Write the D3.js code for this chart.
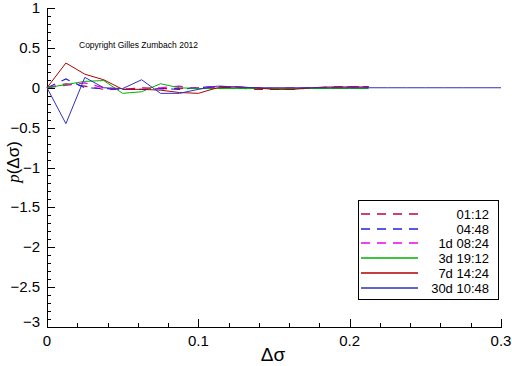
<!DOCTYPE html>
<html>
<head>
<meta charset="utf-8">
<script src="https://cdn.jsdelivr.net/npm/d3@7"></script>
<style>
  body { margin: 0; background: #fff; }
  svg { font-family: "Liberation Sans", Arial, sans-serif; }
</style>
</head>
<body>
<div id="chart"></div>
<script>
// x grid (delta sigma), shared by all series; only the 30d series runs to 0.3
var xs = d3.range(0, 25).map(function (i) { return +(i * 0.0125).toFixed(4); });

var seriesNames = ['01:12', '04:48', '1d 08:24', '3d 19:12', '7d 14:24', '30d 10:48'];
var seriesColors = ['#c00040', '#2020e0', '#f000f0', '#00b000', '#b00000', '#3030c0'];
var seriesDashed = [true, true, true, false, false, false];

var p0112 = [0, 0.05, 0.02, -0.02, -0.02, 0, -0.01, -0.01, 0, 0.01, 0, -0.02, -0.02, -0.02, 0, 0.01, 0.01, 0.01];
var p0448 = [0, 0.11, 0.0, -0.01, -0.02, -0.02, -0.01, -0.02, 0, 0.02, 0.01, 0, -0.01, -0.01, 0, 0, 0.01, 0.01];
var p1d = [0, 0.03, 0.06, 0.0, -0.02, -0.02, 0, 0.02, -0.01, 0.02, 0, 0, -0.01, 0, -0.01, 0, 0.01, 0.01];
var p3d = [0, 0.04, 0.08, 0.09, -0.07, -0.05, 0.05, 0.0, -0.01, -0.01, -0.01, -0.01, -0.01, -0.01, -0.01, -0.01, -0.01, -0.01];
var p7d = [0, 0.31, 0.17, 0.1, -0.02, -0.02, -0.03, -0.06, -0.07, 0, 0.01, 0, -0.02, -0.02, 0, 0.01, 0.01, 0.01];
var p30d = [0, -0.45, 0.13, 0.0, -0.01, 0.1, -0.07, -0.07, -0.02, 0.02, 0.01, 0, 0, 0, 0, 0, 0, 0,
            0, 0, 0, 0, 0, 0, 0];
var seriesValues = [p0112, p0448, p1d, p3d, p7d, p30d];

var xTicks = [0, 0.1, 0.2, 0.3];
var yTicks = [1, 0.5, 0, -0.5, -1, -1.5, -2, -2.5, -3];

(function () {
  var W = 512, H = 366;
  var mLeft = 47, mRight = 501, mTop = 8, mBottom = 327;

  var svg = d3.select('#chart').append('svg').attr('width', W).attr('height', H);

  var x = d3.scaleLinear().domain([0, 0.3]).range([mLeft, mRight]);
  var y = d3.scaleLinear().domain([-3, 1]).range([mBottom, mTop]);

  // minor ticks
  var xMinor = d3.range(0, 0.3001, 0.02);
  var yMinor = d3.range(-3, 1.0001, 0.1);

  svg.append('g').selectAll('line').data(xMinor).join('line')
    .attr('x1', function (d) { return Math.round(x(d)) + 0.5; }).attr('x2', function (d) { return Math.round(x(d)) + 0.5; })
    .attr('y1', mBottom).attr('y2', mBottom - 4)
    .attr('stroke', '#000');
  svg.append('g').selectAll('line').data(yMinor).join('line')
    .attr('x1', mLeft).attr('x2', mLeft + 4)
    .attr('y1', function (d) { return Math.round(y(d)) + 0.5; }).attr('y2', function (d) { return Math.round(y(d)) + 0.5; })
    .attr('stroke', '#000');

  // major ticks
  svg.append('g').selectAll('line').data(xTicks).join('line')
    .attr('x1', function (d) { return Math.round(x(d)) + 0.5; }).attr('x2', function (d) { return Math.round(x(d)) + 0.5; })
    .attr('y1', mBottom).attr('y2', mBottom - 8)
    .attr('stroke', '#000');
  svg.append('g').selectAll('line').data(yTicks).join('line')
    .attr('x1', mLeft).attr('x2', mLeft + 8)
    .attr('y1', function (d) { return Math.round(y(d)) + 0.5; }).attr('y2', function (d) { return Math.round(y(d)) + 0.5; })
    .attr('stroke', '#000');

  // axis lines
  svg.append('line').attr('x1', mLeft).attr('x2', mRight + 1).attr('y1', mBottom + 0.5).attr('y2', mBottom + 0.5)
    .attr('stroke', '#000');
  svg.append('line').attr('x1', mLeft + 0.5).attr('x2', mLeft + 0.5).attr('y1', mTop).attr('y2', mBottom + 1)
    .attr('stroke', '#000');

  // tick labels
  svg.append('g').selectAll('text').data(xTicks).join('text')
    .attr('x', function (d) { return x(d); }).attr('y', mBottom + 19)
    .attr('text-anchor', 'middle').attr('font-size', 15)
    .text(function (d) { return d3.format('')(d); });
  svg.append('g').selectAll('text').data(yTicks).join('text')
    .attr('x', mLeft - 7).attr('y', function (d) { return y(d) + (d === -3 ? 0 : 5); })
    .attr('text-anchor', 'end').attr('font-size', 15)
    .text(function (d) { return d3.format('')(d); });

  // axis titles
  svg.append('text').attr('x', 273).attr('y', 361).attr('text-anchor', 'middle')
    .attr('font-size', 19).text('Δσ');
  svg.append('text').attr('transform', 'translate(19,162) rotate(-90)')
    .attr('text-anchor', 'middle').attr('font-size', 17)
    .html('<tspan font-style="italic" font-family="Liberation Serif">p</tspan>(Δσ)');

  svg.append('text').attr('x', 79).attr('y', 48).attr('font-size', 8.5)
    .text('Copyright Gilles Zumbach 2012');

  // lines
  var line = d3.line()
    .x(function (d, i) { return x(xs[i]); })
    .y(function (d) { return y(d); });

  seriesValues.forEach(function (vals, k) {
    svg.append('path')
      .attr('d', line(vals))
      .attr('fill', 'none')
      .attr('stroke', seriesColors[k])
      .attr('stroke-width', seriesDashed[k] ? 1.2 : 1)
      .attr('stroke-dasharray', seriesDashed[k] ? '9,7' : null);
  });

  // legend
  var lg = svg.append('g');
  lg.append('rect').attr('x', 358.5).attr('y', 200.5).attr('width', 140).attr('height', 99)
    .attr('fill', '#fff').attr('stroke', '#000');
  seriesNames.forEach(function (name, k) {
    var ly = Math.round(214 + k * 14.7);
    lg.append('line').attr('x1', 361).attr('x2', 418).attr('y1', ly).attr('y2', ly)
      .attr('stroke', seriesColors[k])
      .attr('stroke-width', 1.3)
      .attr('stroke-dasharray', seriesDashed[k] ? '9,7' : null);
    lg.append('text').attr('x', 489).attr('y', ly + 5).attr('text-anchor', 'end')
      .attr('font-size', 13).text(name);
  });
})();
</script>
</body>
</html>
